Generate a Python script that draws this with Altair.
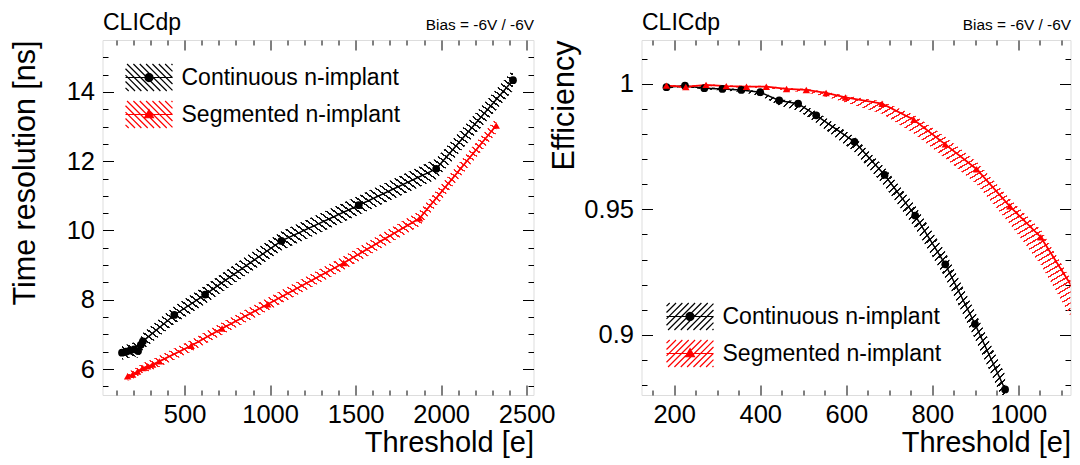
import math
import altair as alt
import pandas as pd

FONT = "Liberation Sans"

# ---------------- data ----------------
series_names = ["Continuous n-implant", "Segmented n-implant"]

# Left panel: time resolution [ns] vs threshold [e]
tr_cont_thr = [134, 157, 180, 205, 228, 244, 256, 440, 620, 1066, 1518, 1971, 2420]
tr_cont_val = [6.47, 6.50, 6.53, 6.57, 6.52, 6.70, 6.80, 7.56, 8.15, 9.70, 10.73, 11.78, 14.34]
tr_cont_err = [0.20, 0.20, 0.20, 0.20, 0.20, 0.22, 0.24, 0.26, 0.27, 0.28, 0.28, 0.30, 0.30]

tr_seg_thr = [167, 196, 225, 255, 284, 313, 352, 538, 719, 986, 1430, 1874, 2322]
tr_seg_val = [5.79, 5.84, 5.93, 6.03, 6.08, 6.13, 6.22, 6.67, 7.17, 7.87, 9.06, 10.35, 13.03]
tr_seg_err = [0.13, 0.13, 0.14, 0.14, 0.15, 0.15, 0.16, 0.17, 0.18, 0.19, 0.20, 0.22, 0.22]

# Right panel: efficiency vs threshold [e]
ef_cont_thr = [182, 225, 270, 312, 356, 400, 444, 488, 530, 619, 689, 760, 830, 899, 969]
ef_cont_val = [0.9987, 0.9993, 0.9983, 0.9980, 0.9976, 0.9967, 0.9934, 0.9921, 0.9875,
               0.9769, 0.9637, 0.9475, 0.9281, 0.9043, 0.8782]
ef_cont_lo = [0.0005, 0.0005, 0.0005, 0.0006, 0.0008, 0.0015, 0.0020, 0.0028, 0.0030,
              0.0040, 0.0045, 0.0050, 0.0055, 0.0060, 0.0060]
ef_cont_hi = [0.0004, 0.0004, 0.0004, 0.0004, 0.0004, 0.0004, 0.0005, 0.0010, 0.0015,
              0.0020, 0.0030, 0.0040, 0.0050, 0.0050, 0.0060]

ef_seg_thr = [182, 227, 274, 321, 368, 414, 461, 507, 553, 598, 683, 757, 830, 903, 980, 1052, 1135]
ef_seg_val = [0.9993, 0.9988, 0.9996, 0.9991, 0.9989, 0.9989, 0.9980, 0.9976, 0.9964,
              0.9946, 0.9921, 0.9857, 0.9759, 0.9660, 0.9512, 0.9389, 0.9163]
ef_seg_lo = [0.0004, 0.0004, 0.0004, 0.0004, 0.0004, 0.0005, 0.0007, 0.0010, 0.0015,
             0.0020, 0.0040, 0.0055, 0.0055, 0.0060, 0.0070, 0.0110, 0.0130]
ef_seg_hi = [0.0004, 0.0004, 0.0004, 0.0004, 0.0004, 0.0004, 0.0004, 0.0005, 0.0005,
             0.0008, 0.0010, 0.0020, 0.0030, 0.0030, 0.0030, 0.0030, 0.0020]

# axis tick values / labels
L_XMAJ = [500, 1000, 1500, 2000, 2500]
L_XALL = list(range(100, 2501, 100))
L_YMAJ = [6, 8, 10, 12, 14]
L_YALL = [5.5 + 0.5 * k for k in range(20)]
R_XMAJ = [200, 400, 600, 800, 1000]
R_XALL = list(range(150, 1101, 50))
R_YMAJ = [0.9, 0.95, 1.0]
R_YALL = [round(0.88 + 0.01 * k, 2) for k in range(14)]

# ---------------- geometry / style ----------------
LW, LH = 431, 355
RW, RH = 429, 355
L_XDOM, L_YDOM = [20, 2540], [5.25, 15.5]
R_XDOM, R_YDOM = [124, 1121], [0.876, 1.0175]
YTITLE_FS = 30.5
XTITLE_FS = 29


def frame(xs, ys, lo, hi):
    return pd.DataFrame({"thr": xs, "val": ys,
                         "lo": [y - e for y, e in zip(ys, lo)],
                         "hi": [y + e for y, e in zip(ys, hi)]})


def hatch_gradient(df, color, clear, xdom, ydom, W, H, slash, period=4.8, frac=0.3):
    w = (df.thr.max() - df.thr.min()) / (xdom[1] - xdom[0]) * W
    h = (df.hi.max() - df.lo.min()) / (ydom[1] - ydom[0]) * H
    n = max(1, int(round(2 * w * h / (period * math.hypot(w, h)))))
    stops = []
    for k in range(n):
        a, b, c = k / n, (k + frac) / n, (k + 1) / n
        stops += [{"offset": a, "color": color}, {"offset": b, "color": color},
                  {"offset": b, "color": clear}, {"offset": c, "color": clear}]
    g = dict(x1=0, y1=0, x2=1, y2=1) if slash else dict(x1=0, y1=1, x2=1, y2=0)
    return {"gradient": "linear", **g, "stops": stops}


def legend_symbol(marker, slash):
    W, Hh, step = 1.74, 1.0, 0.47
    segs = []
    c = -(W + Hh) + step / 2
    while c < W + Hh:
        x0, x1 = max(-W, c - Hh), min(W, c + Hh)
        if x1 > x0:
            if slash:
                segs.append(f"M{x0:.3f},{c - x0:.3f}L{x1:.3f},{c - x1:.3f}")
            else:
                segs.append(f"M{x0:.3f},{x0 - c:.3f}L{x1:.3f},{x1 - c:.3f}")
        c += step
    segs.append(f"M{-W},0L{W},0")
    if marker == "circle":
        r = 0.30
        pts = [(r * math.cos(2 * math.pi * i / 16), r * math.sin(2 * math.pi * i / 16)) for i in range(16)]
        segs.append("M" + "L".join(f"{px:.3f},{py:.3f}" for px, py in pts) + "Z")
    else:
        segs.append("M0,-0.36L0.33,0.24L-0.33,0.24Z")
    return "".join(segs)


def cond(test, big, small):
    return {"condition": {"test": test, "value": big}, "value": small}


def panel(cont, seg, xdom, ydom, W, H, xmaj, xall, ymaj, yall, xtest, ytest,
          ytitle, slash, legx, legy, ytitle_x):
    xs = alt.Scale(domain=xdom, nice=False, zero=False)
    ys = alt.Scale(domain=ydom, nice=False, zero=False)
    common = dict(labels=False, domain=False, grid=False, title=None,
                  tickColor="black", tickWidth=1)
    ax_lab_x = alt.Axis(orient="bottom", values=xmaj, labelExpr="'' + datum.value", labelFont=FONT,
                        labelFontSize=25.5, labelColor="black", labelPadding=7,
                        labelFlush=False, labelOverlap=False, ticks=False, tickSize=0,
                        domain=False, grid=False, title="Threshold [e]", titleFont=FONT,
                        titleFontSize=XTITLE_FS, titleFontWeight="normal", titleColor="black",
                        titleAnchor="end", titleAlign="right", titleBaseline="top",
                        titleX=W, titleY=33)
    ax_lab_y = alt.Axis(orient="left", values=ymaj, labelExpr="'' + datum.value", labelFont=FONT,
                        labelFontSize=25.5, labelColor="black", labelPadding=8,
                        labelOverlap=False, ticks=False, tickSize=0, domain=False,
                        grid=False, title=ytitle, titleFont=FONT, titleFontSize=YTITLE_FS,
                        titleFontWeight="normal", titleColor="black", titleAnchor="end",
                        titleBaseline="bottom", titleAngle=270, titleX=ytitle_x)
    ax_tick_xb = alt.Axis(orient="top", offset=-H, values=xall, tickSize=cond(xtest, 10, 5), **common)
    ax_tick_xt = alt.Axis(orient="bottom", offset=-H, values=xall, tickSize=cond(xtest, 10, 5), **common)
    ax_tick_yl = alt.Axis(orient="right", offset=-W, values=yall, tickSize=cond(ytest, 11, 5.5), **common)
    ax_tick_yr = alt.Axis(orient="left", offset=-W, values=yall, tickSize=cond(ytest, 11, 5.5), **common)
    ax_clic = alt.Axis(orient="top", ticks=False, labels=False, domain=False, grid=False,
                       title="CLICdp", titleFont=FONT, titleFontSize=23, titleFontWeight="normal",
                       titleColor="black", titleAnchor="start", titleBaseline="alphabetic",
                       titleY=-10.5)
    ax_bias = alt.Axis(orient="top", ticks=False, labels=False, domain=False, grid=False,
                       title="Bias = -6V / -6V", titleFont=FONT, titleFontSize=15.4,
                       titleFontWeight="normal", titleColor="black", titleAnchor="end",
                       titleBaseline="alphabetic", titleY=-10.5)

    g_c = hatch_gradient(cont, "#111111", "rgba(0,0,0,0)", xdom, ydom, W, H, slash, frac=0.32)
    g_s = hatch_gradient(seg, "#ff2020", "rgba(255,0,0,0)", xdom, ydom, W, H, slash, frac=0.3)

    area_c = alt.Chart(cont).mark_area(fill=g_c, clip=True).encode(
        x=alt.X("thr:Q", scale=xs, axis=ax_lab_x),
        y=alt.Y("lo:Q", scale=ys, axis=ax_lab_y), y2="hi:Q")
    area_s = alt.Chart(seg).mark_area(fill=g_s, clip=True).encode(
        x=alt.X("thr:Q", scale=xs, axis=ax_tick_xb),
        y=alt.Y("lo:Q", scale=ys, axis=ax_tick_yl), y2="hi:Q")
    line_c = alt.Chart(cont).mark_line(color="black", strokeWidth=1.5, clip=True).encode(
        x=alt.X("thr:Q", scale=xs, axis=ax_tick_xt),
        y=alt.Y("val:Q", scale=ys, axis=ax_tick_yr))
    line_s = alt.Chart(seg).mark_line(color="#ff0000", strokeWidth=1.8, clip=True).encode(
        x=alt.X("thr:Q", scale=xs, axis=ax_clic),
        y=alt.Y("val:Q", scale=ys, axis=None))
    pts_c = alt.Chart(cont).mark_point(shape="circle", filled=True, size=60, color="black",
                                       opacity=1, clip=True).encode(
        x=alt.X("thr:Q", scale=xs, axis=ax_bias),
        y=alt.Y("val:Q", scale=ys, axis=None))
    pts_s = alt.Chart(seg).mark_point(shape="triangle-up", filled=True, size=55, color="#ff0000",
                                      opacity=1, clip=True).encode(
        x=alt.X("thr:Q", scale=xs, axis=None),
        y=alt.Y("val:Q", scale=ys, axis=None))

    leg = alt.Legend(title=None, orient="none", legendX=legx, legendY=legy, padding=0,
                     symbolSize=729, symbolStrokeWidth=1.2, symbolOpacity=1,
                     labelFont=FONT, labelFontSize=23, labelColor="black", labelLimit=0,
                     labelOffset=18, rowPadding=4)
    cscale = alt.Scale(domain=series_names, range=["#000000", "#ff0000"])
    sscale = alt.Scale(domain=series_names,
                       range=[legend_symbol("circle", slash), legend_symbol("triangle", slash)])
    legend_layer = alt.Chart(pd.DataFrame({"leg": series_names})).mark_point(
        filled=True, opacity=0).encode(
        fill=alt.Fill("leg:N", scale=cscale, legend=leg),
        stroke=alt.Stroke("leg:N", scale=cscale, legend=leg),
        shape=alt.Shape("leg:N", scale=sscale, legend=leg))

    return alt.layer(area_c, area_s, line_c, line_s, pts_c, pts_s, legend_layer).resolve_axis(
        x="independent", y="independent").properties(width=W, height=H)


left = panel(frame(tr_cont_thr, tr_cont_val, tr_cont_err, tr_cont_err),
             frame(tr_seg_thr, tr_seg_val, tr_seg_err, tr_seg_err),
             L_XDOM, L_YDOM, LW, LH, L_XMAJ, L_XALL, L_YMAJ, L_YALL,
             "datum.value % 500 === 0", "datum.value % 2 === 0",
             "Time resolution [ns]", False, 32, 23, -61.8)
right = panel(frame(ef_cont_thr, ef_cont_val, ef_cont_lo, ef_cont_hi),
              frame(ef_seg_thr, ef_seg_val, ef_seg_lo, ef_seg_hi),
              R_XDOM, R_YDOM, RW, RH, R_XMAJ, R_XALL, R_YMAJ, R_YALL,
              "datum.value % 200 === 0", "abs(datum.value * 20 - round(datum.value * 20)) < 1e-6",
              "Efficiency", True, 34, 262, -61.8)

chart = alt.hconcat(left, right, spacing=108, bounds="flush").resolve_scale(
    fill="independent", stroke="independent", shape="independent"
).properties(
    padding={"left": 1.5, "top": 3, "right": 0, "bottom": 0}, background="white"
).configure_view(stroke="black", strokeWidth=1.5).configure(font=FONT)

chart.save("out.html", embed_options={"renderer": "svg", "actions": False})
